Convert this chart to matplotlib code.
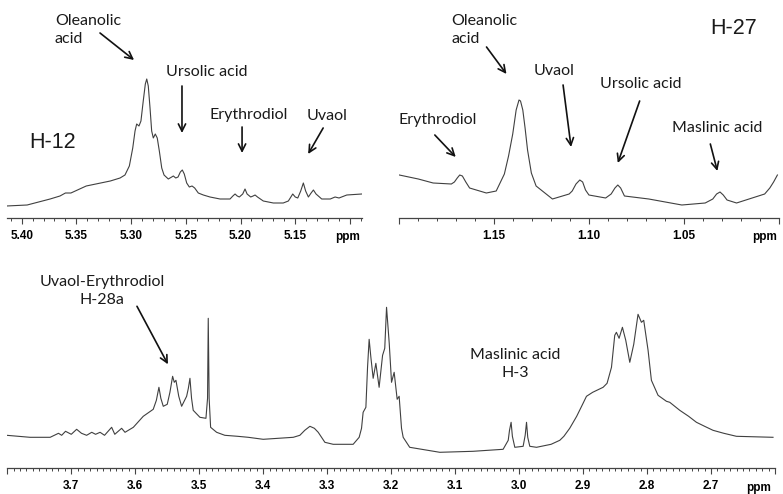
import matplotlib
matplotlib.use("Agg")
import matplotlib.pyplot as plt

# H-12 region (ppm, intensity)
h12_ppm = [5.414, 5.395, 5.374, 5.365, 5.360, 5.355, 5.341, 5.319, 5.3101, 5.3056,
           5.3016, 5.2985, 5.2964, 5.2949, 5.2928, 5.2910, 5.2889, 5.2870, 5.2857, 5.2843,
           5.2827, 5.2812, 5.2797, 5.2779, 5.2761, 5.2742, 5.2720, 5.2699, 5.2660, 5.2629,
           5.2614, 5.2592, 5.2571, 5.2550, 5.2532, 5.2514, 5.2492, 5.2468, 5.2443, 5.2419,
           5.2386, 5.2340, 5.2279, 5.2187, 5.2096, 5.2070, 5.2050, 5.2030, 5.2011, 5.1980,
           5.1959, 5.1940, 5.1907, 5.1885, 5.1867, 5.1845, 5.1792, 5.170, 5.161, 5.1563,
           5.1540, 5.1523, 5.1500, 5.1477, 5.1450, 5.1426, 5.1405, 5.1380, 5.1355, 5.1334,
           5.1310, 5.1258, 5.118, 5.1136, 5.110, 5.1029, 5.0892]
h12_int = [12, 13, 19, 22, 25, 25, 32, 37, 40, 43,
           52, 70, 87, 94, 92, 97, 117, 134, 139, 132,
           110, 87, 80, 84, 80, 67, 50, 43, 39, 41,
           42, 40, 41, 46, 48, 44, 35, 31, 32, 30,
           25, 23, 21, 19, 19, 22, 24, 22, 21, 24,
           29, 24, 21, 22, 23, 21, 17, 15, 15, 17,
           21, 24, 21, 20, 27, 35, 27, 21, 25, 28,
           24, 19, 19, 21, 20, 23, 24]

# H-27 region
h27_ppm = [1.200, 1.190, 1.1822, 1.1726, 1.1710, 1.1695, 1.1682, 1.1668, 1.1650, 1.163,
           1.1542, 1.149, 1.1447, 1.1425, 1.1403, 1.1385, 1.1370, 1.1362, 1.1350, 1.1338,
           1.1325, 1.1305, 1.128, 1.1194, 1.1106, 1.109, 1.107, 1.105, 1.1035, 1.102,
           1.1002, 1.0914, 1.0885, 1.0865, 1.085, 1.0835, 1.0815, 1.0687, 1.0513, 1.039,
           1.035, 1.033, 1.0312, 1.0295, 1.0275, 1.0225, 1.0077, 1.005, 1.003, 1.001]
h27_int = [43, 39, 35, 34, 36, 40, 43, 42, 36, 30,
           25, 27, 44, 62, 84, 108, 118, 117, 108, 90,
           68, 45, 32, 19, 24, 27, 34, 38, 36, 28,
           23, 20, 24, 30, 33, 30, 22, 19, 13, 15,
           19, 24, 26, 23, 18, 15, 24, 30, 36, 43]

# 2.6 - 3.8 ppm region
low_ppm = [3.801, 3.7645, 3.733, 3.720, 3.715, 3.709, 3.700, 3.6916, 3.684, 3.676,
           3.668, 3.662, 3.655, 3.648, 3.6369, 3.632, 3.6213, 3.616, 3.603, 3.5875,
           3.5719, 3.5670, 3.5630, 3.5600, 3.5562, 3.5500, 3.5458, 3.5416, 3.5390, 3.5364,
           3.5320, 3.5275, 3.5197, 3.5170, 3.5145, 3.5120, 3.5094, 3.4989, 3.4895, 3.4870,
           3.4859, 3.4845, 3.4822, 3.4728, 3.460, 3.440, 3.4234, 3.400, 3.353, 3.3427,
           3.335, 3.327, 3.320, 3.314, 3.3036, 3.2906, 3.2594, 3.250, 3.2463, 3.2438,
           3.2395, 3.2369, 3.2344, 3.2317, 3.2281, 3.2239, 3.2188, 3.2134, 3.2100, 3.2072,
           3.203, 3.1994, 3.1953, 3.1906, 3.1875, 3.1838, 3.1812, 3.171, 3.124, 3.072,
           3.025, 3.0170, 3.0150, 3.0125, 3.0105, 3.0067, 2.9937, 2.9905, 2.9884, 2.9865,
           2.9833, 2.9728, 2.9500, 2.9364, 2.930, 2.9209, 2.910, 2.900, 2.8947, 2.885,
           2.8687, 2.8625, 2.8556, 2.8505, 2.8479, 2.8437, 2.8385, 2.8333, 2.8270, 2.8208,
           2.8141, 2.8088, 2.8052, 2.7984, 2.7932, 2.7828, 2.7697, 2.7645, 2.7489, 2.735,
           2.7228, 2.710, 2.6969, 2.680, 2.6603, 2.6031]
low_int = [33, 31, 31, 35, 33, 37, 34, 39, 35, 33,
           36, 34, 36, 33, 41, 34, 40, 36, 41, 52,
           59, 68, 81, 70, 62, 64, 76, 92, 86, 88,
           72, 62, 72, 80, 90, 70, 58, 51, 50, 70,
           150, 70, 41, 36, 33, 32, 31, 29, 31, 33,
           38, 42, 40, 36, 26, 24, 24, 31, 40, 56,
           61, 101, 129, 111, 90, 105, 81, 113, 120, 161,
           125, 86, 96, 69, 72, 40, 31, 21, 16, 17,
           19, 28, 38, 46, 32, 21, 22, 33, 46, 31,
           22, 21, 24, 28, 32, 40, 52, 65, 72, 76,
           81, 85, 101, 133, 136, 130, 141, 128, 106, 124,
           154, 146, 148, 118, 88, 73, 67, 66, 58, 52,
           46, 42, 38, 35, 32, 31]

ticks_h12 = [5.40, 5.35, 5.30, 5.25, 5.20, 5.15, 5.10]
labels_h12 = ['5.40', '5.35', '5.30', '5.25', '5.20', '5.15', '']
ticks_h27 = [1.20, 1.15, 1.10, 1.05, 1.00]
labels_h27 = ['', '1.15', '1.10', '1.05', '']
ticks_low = [3.8, 3.7, 3.6, 3.5, 3.4, 3.3, 3.2, 3.1, 3.0, 2.9, 2.8, 2.7, 2.6]
labels_low = ['', '3.7', '3.6', '3.5', '3.4', '3.3', '3.2', '3.1', '3.0', '2.9', '2.8', '2.7', '']

W, H = 783, 494
fig = plt.figure(figsize=(W / 100, H / 100), dpi=100)

LINE = '#404040'
ANNOT = dict(family='Lato', size=11.5, color='#1a1a1a')
ARROW = dict(arrowstyle='->', lw=1.2, color='#111111', mutation_scale=13, shrinkA=0, shrinkB=0)


def setup(ax, xlim, ticks, labels, minor_step):
    ax.set_xlim(*xlim)
    ax.set_ylim(0, 218)
    for s in ['left', 'right', 'top']:
        ax.spines[s].set_visible(False)
    ax.spines['bottom'].set_color('#444444')
    ax.spines['bottom'].set_linewidth(0.9)
    ax.set_yticks([])
    ax.set_xticks(ticks)
    ax.set_xticklabels(labels, fontfamily='Liberation Sans', fontweight='bold', fontsize=8.5)
    lo, hi = min(xlim), max(xlim)
    n0 = int(round(lo / minor_step))
    n1 = int(round(hi / minor_step))
    ax.set_xticks([k * minor_step for k in range(n0, n1 + 1)], minor=True)
    ax.tick_params(axis='x', which='major', length=4, width=0.8, color='#444444', pad=4.5)
    ax.tick_params(axis='x', which='minor', length=2, width=0.7, color='#444444')
    ax.patch.set_alpha(0)
    ax.text(0.995, -0.088, 'ppm', transform=ax.transAxes, ha='right', va='center',
            fontfamily='Liberation Sans', fontweight='bold', fontsize=8.5)


# top-left: H-12
ax1 = fig.add_axes([7 / W, 276 / H, 355 / W, 218 / H])
setup(ax1, (5.4134, 5.089), ticks_h12, labels_h12, 0.01)
ax1.plot(h12_ppm, h12_int, color=LINE, lw=0.8)
ax1.text(5.3696, 188, 'Oleanolic\nacid', ha='left', va='center', linespacing=1.35, **ANNOT)
ax1.annotate('', xy=(5.2973, 158), xytext=(5.3284, 185), arrowprops=ARROW)
ax1.text(5.2305, 146, 'Ursolic acid', ha='center', va='center', **ANNOT)
ax1.annotate('', xy=(5.2535, 85), xytext=(5.2535, 132), arrowprops=ARROW)
ax1.text(5.1927, 103, 'Erythrodiol', ha='center', va='center', **ANNOT)
ax1.annotate('', xy=(5.1986, 65), xytext=(5.1986, 91), arrowprops=ARROW)
ax1.text(5.1209, 102, 'Uvaol', ha='center', va='center', **ANNOT)
ax1.annotate('', xy=(5.1382, 64), xytext=(5.1245, 90), arrowprops=ARROW)
ax1.text(5.3714, 76, 'H-12', ha='center', va='center', family='Liberation Sans',
         size=15.5, color='#1a1a1a')

# top-right: H-27
ax2 = fig.add_axes([399.3 / W, 276 / H, 380 / W, 218 / H])
setup(ax2, (1.20, 1.00), ticks_h27, labels_h27, 0.01)
ax2.plot(h27_ppm, h27_int, color=LINE, lw=0.8)
ax2.text(1.1724, 188, 'Oleanolic\nacid', ha='left', va='center', linespacing=1.35, **ANNOT)
ax2.annotate('', xy=(1.1436, 144), xytext=(1.1541, 171), arrowprops=ARROW)
ax2.text(1.1185, 147, 'Uvaol', ha='center', va='center', **ANNOT)
ax2.annotate('', xy=(1.1096, 71), xytext=(1.1138, 133), arrowprops=ARROW)
ax2.text(1.0730, 134, 'Ursolic acid', ha='center', va='center', **ANNOT)
ax2.annotate('', xy=(1.0850, 55), xytext=(1.0735, 117), arrowprops=ARROW)
ax2.text(1.1800, 98, 'Erythrodiol', ha='center', va='center', **ANNOT)
ax2.annotate('', xy=(1.1703, 61), xytext=(1.1813, 83), arrowprops=ARROW)
ax2.text(1.0329, 90, 'Maslinic acid', ha='center', va='center', **ANNOT)
ax2.annotate('', xy=(1.0326, 47), xytext=(1.0363, 74), arrowprops=ARROW)
ax2.text(1.0243, 189, 'H-27', ha='center', va='center', family='Liberation Sans',
         size=15.5, color='#1a1a1a')

# bottom: 2.6 - 3.8 ppm
ax3 = fig.add_axes([7.3 / W, 25.7 / H, 767.7 / W, 218.3 / H])
setup(ax3, (3.80, 2.60), ticks_low, labels_low, 0.01)
ax3.set_ylim(0, 218.3)
ax3.plot(low_ppm, low_int, color=LINE, lw=0.8)
ax3.text(3.6513, 177, 'Uvaol-Erythrodiol\nH-28a', ha='center', va='center',
         linespacing=1.35, **ANNOT)
ax3.annotate('', xy=(3.5489, 104), xytext=(3.5973, 162), arrowprops=ARROW)
ax3.text(3.0067, 104, 'Maslinic acid\nH-3', ha='center', va='center',
         linespacing=1.35, **ANNOT)

fig.savefig('out.png', dpi=100)
